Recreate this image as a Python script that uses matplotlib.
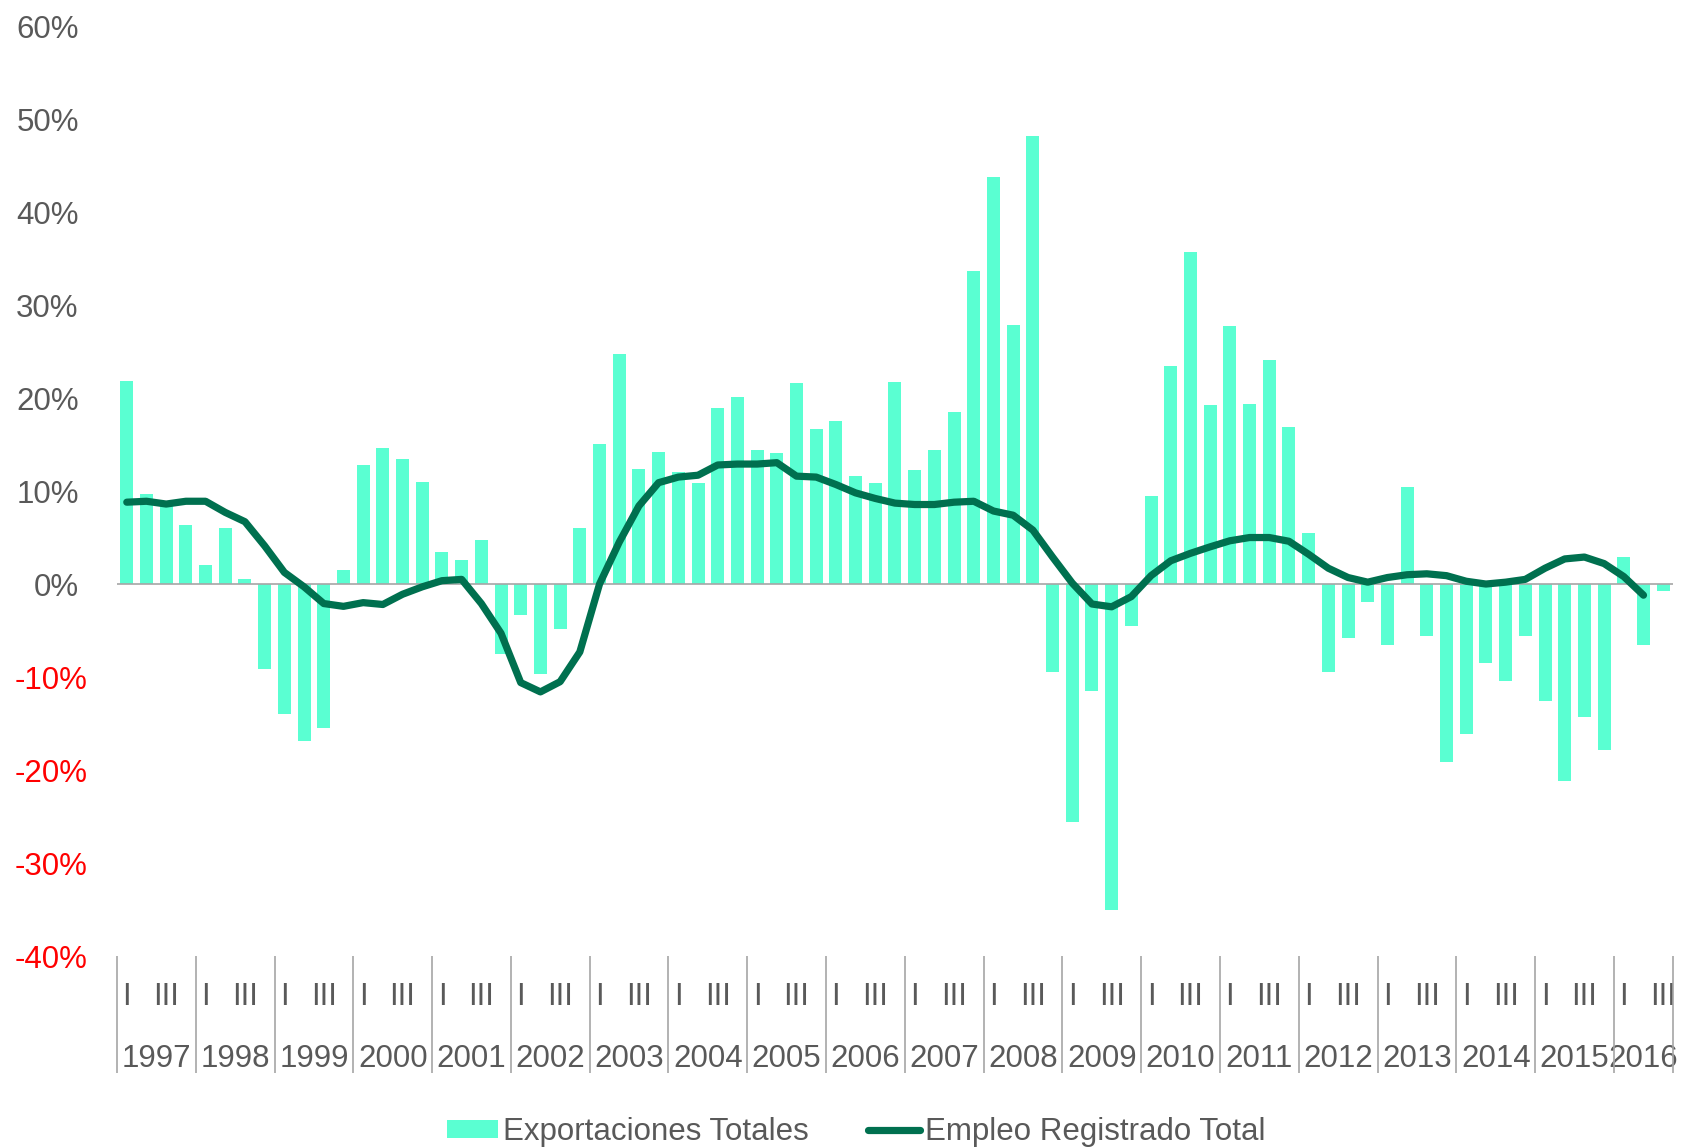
import numpy as np
import matplotlib
matplotlib.use("Agg")
import matplotlib.pyplot as plt

plt.rcParams["font.family"] = ["Liberation Sans", "DejaVu Sans"]

years = [str(y) for y in range(1997, 2017)]
quarter_names = ["I", "", "III", ""]
n_quarters = 79  # 1997 Q1 .. 2016 Q3

# Year-on-year change, %
exports = [
    21.8, 9.7, 8.5, 6.4,
    2.0, 6.0, 0.5, -9.1,
    -14.0, -16.9, -15.5, 1.5,
    12.8, 14.6, 13.4, 11.0,
    3.4, 2.6, 4.7, -7.5,
    -3.3, -9.7, -4.8, 6.0,
    15.1, 24.7, 12.4, 14.2,
    12.1, 10.9, 18.9, 20.1,
    14.4, 14.1, 21.6, 16.7,
    17.5, 11.6, 10.9, 21.7,
    12.3, 14.4, 18.5, 33.7,
    43.8, 27.9, 48.2, -9.5,
    -25.6, -11.5, -35.0, -4.5,
    9.5, 23.4, 35.7, 19.2,
    27.7, 19.4, 24.1, 16.9,
    5.5, -9.5, -5.8, -1.9,
    -6.55, 10.4, -5.6, -19.1,
    -16.1, -8.5, -10.4, -5.6,
    -12.6, -21.2, -14.3, -17.8,
    2.9, -6.55, -0.7,
]
employment = [
    8.8, 8.9, 8.6, 8.9,
    8.9, 7.7, 6.7, 4.1,
    1.25, -0.3, -2.1, -2.4,
    -2.0, -2.2, -1.1, -0.3,
    0.36, 0.5, -2.1, -5.3,
    -10.6, -11.6, -10.5, -7.3,
    0.0, 4.5, 8.4, 10.9,
    11.5, 11.7, 12.8, 12.9,
    12.9, 13.05, 11.6, 11.5,
    10.7, 9.8, 9.2, 8.7,
    8.55, 8.55, 8.8, 8.9,
    7.85, 7.4, 5.8, 2.9,
    0.1, -2.15, -2.45, -1.35,
    0.9, 2.5, 3.3, 4.0,
    4.65, 5.0, 5.0, 4.6,
    3.2, 1.7, 0.7, 0.2,
    0.7, 1.0, 1.1, 0.9,
    0.3, 0.0, 0.2, 0.5,
    1.7, 2.7, 2.9, 2.2,
    0.8, -1.2, np.nan,
]
yticks = list(range(-40, 61, 10))

text_gray = "#595959"
bar_color = "#5AFFD2"
line_color = "#00704F"
axis_gray = "#A6A6A6"
fs = 22.5

x = np.arange(n_quarters)

fig = plt.figure(figsize=(16.85, 11.47), dpi=100)
ax = fig.add_axes([0.0694, 0.1665, 0.9235, 0.8108])

bars = ax.bar(x, exports, width=0.66, color=bar_color, label="Exportaciones Totales", zorder=2)
ax.axhline(0, color=axis_gray, lw=1.2, zorder=3)
line, = ax.plot(x, employment, color=line_color, lw=5.2, solid_capstyle="round",
                solid_joinstyle="round", label="Empleo Registrado Total", zorder=4)

ax.set_xlim(-0.5, n_quarters - 0.5)
ax.set_ylim(-40, 60)
for s in ax.spines.values():
    s.set_visible(False)

# y axis: gray positives, red negatives (negatives sit slightly further right)
ax.set_yticks(yticks)
ax.set_yticklabels([f"{v}%" for v in yticks], fontsize=fs)
ax.tick_params(axis="y", length=0)
for tick, v in zip(ax.yaxis.get_major_ticks(), yticks):
    if v < 0:
        tick.label1.set_color("red")
        tick.set_pad(21)
    else:
        tick.label1.set_color(text_gray)
        tick.set_pad(27.5)

# x axis: quarter labels (major) and year labels (minor)
ax.xaxis.remove_overlapping_locs = False
q_labels = [quarter_names[i % 4] for i in range(n_quarters)]
ax.set_xticks(x)
ax.set_xticklabels(q_labels, fontsize=fs, color=text_gray)
year_centers = [np.mean(x[i:i + 4]) for i in range(0, n_quarters, 4)]
ax.set_xticks(year_centers, minor=True)
ax.set_xticklabels(years, minor=True, fontsize=fs, color=text_gray)
ax.tick_params(axis="x", which="major", length=0, pad=19)
ax.tick_params(axis="x", which="minor", length=0, pad=63)

# year separators under the axis
seps = list(np.arange(-0.5, n_quarters, 4)) + [n_quarters - 0.5]
ax.vlines(seps, 0, -0.126, transform=ax.get_xaxis_transform(),
          color=axis_gray, lw=1.2, clip_on=False)

fig.legend([bars, line], ["Exportaciones Totales", "Empleo Registrado Total"],
           loc="center", bbox_to_anchor=(0.508, 0.013), ncol=2, frameon=False,
           fontsize=fs, labelcolor=text_gray, handlelength=1.65,
           handleheight=0.55, handletextpad=0.15, columnspacing=1.9)

fig.savefig("out.png", dpi=100)
